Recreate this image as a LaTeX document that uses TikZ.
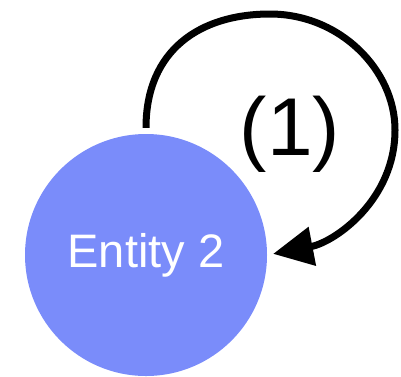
\documentclass[tikz,border=0pt]{standalone}
\usepackage{fontspec}
\setmainfont{Liberation Sans}
\usetikzlibrary{arrows.meta}
\definecolor{entityblue}{RGB}{122,140,250}
\begin{document}
\begin{tikzpicture}[x=1pt,y=-1pt,
  entity/.style={circle, fill=entityblue, draw=none, minimum size=242pt, inner sep=0pt,
    text=white, font=\fontsize{47}{56}\selectfont},
  selfloop/.style={line width=7pt, draw=black,
    -{Triangle[length=40pt,width=38pt]}, shorten <=6pt, shorten >=6pt},
  looplabel/.style={font=\fontsize{82}{98}\selectfont, inner sep=0pt}]
  \useasboundingbox (0,0) rectangle (401,376);
  \node[entity] (e) at (146,255) {Entity 2};
  \draw[selfloop] (e.north) .. controls (146,50) and (200,14) .. (270,14)
    .. controls (340,14) and (395,70) .. (395,130)
    .. controls (395,200) and (335,242) .. (e.east);
  \node[looplabel] (lbl) at (290,134) {(1)};
\end{tikzpicture}
\end{document}
